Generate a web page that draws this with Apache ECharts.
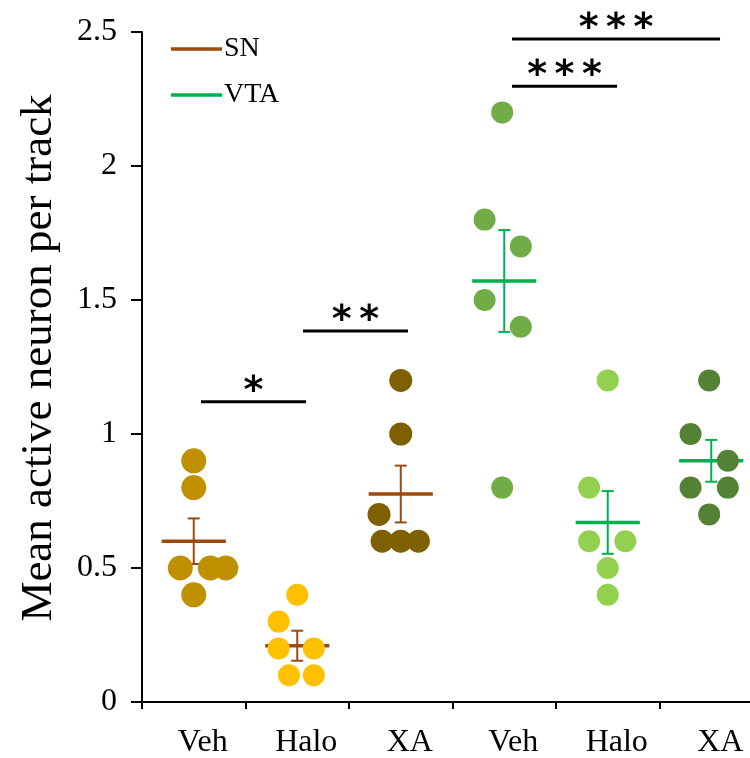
<!DOCTYPE html>
<html>
<head>
<meta charset="utf-8">
<script src="https://cdn.jsdelivr.net/npm/echarts@6/dist/echarts.min.js"></script>
<style>
  html, body { margin: 0; padding: 0; background: #fff; }
  #chart { width: 750px; height: 758px; }
</style>
</head>
<body>
<div id="chart"></div>
<script>
var categories = ['Veh', 'Halo', 'XA', 'Veh', 'Halo', 'XA']
var groupColors = ['#BF9000', '#FFC000', '#7F6000', '#70AD47', '#92D050', '#548235']
var dotSizes = [25, 22, 23, 22, 22, 22]

// values per animal, one array per group
var snVeh = [0.9, 0.8, 0.5, 0.5, 0.5, 0.4]
var snHalo = [0.4, 0.3, 0.2, 0.2, 0.1, 0.1]
var snXa = [1.2, 1.0, 0.7, 0.6, 0.6, 0.6]
var vtaVeh = [2.2, 1.8, 1.7, 1.5, 1.4, 0.8]
var vtaHalo = [1.2, 0.8, 0.6, 0.6, 0.5, 0.4]
var vtaXa = [1.2, 1.0, 0.9, 0.8, 0.8, 0.7]
var groupValues = [snVeh, snHalo, snXa, vtaVeh, vtaHalo, vtaXa]

// sideways spread of the dots, in category widths
var snVehSpread = [0, 0, -0.13, 0.16, 0.31, 0]
var snHaloSpread = [0, -0.18, -0.18, 0.16, -0.08, 0.16]
var snXaSpread = [0, 0, -0.21, -0.18, 0, 0.17]
var vtaVehSpread = [-0.02, -0.19, 0.16, -0.19, 0.16, -0.02]
var vtaHaloSpread = [0, -0.18, -0.18, 0.17, 0, 0]
var vtaXaSpread = [-0.02, -0.2, 0.16, -0.2, 0.16, -0.02]
var groupSpread = [snVehSpread, snHaloSpread, snXaSpread, vtaVehSpread, vtaHaloSpread, vtaXaSpread]

// mean and sem as drawn
var snMean = [0.6, 0.21, 0.776]
var snSem = [0.085, 0.056, 0.106]
var vtaMean = [1.571, 0.67, 0.9]
var vtaSem = [0.19, 0.117, 0.078]

// significance bars (x in category units from the left edge)
var sigFrom = [0.57, 1.556, 3.575, 3.575]
var sigTo = [1.585, 2.57, 4.59, 5.585]
var sigLevel = [1.12, 1.384, 2.298, 2.474]
var sigMarks = ['*', '*\u2009*', '*\u2009*\u2009*', '*\u2009*\u2009*']

var SERIF = 'Liberation Serif'
var BROWN = '#9C4A0E'
var GREEN = '#00B050'

function renderMeanSem (params, api) {
  var x = api.value(0)
  var m = api.value(1)
  var s = api.value(2)
  var l = api.coord([x - 0.31, m])
  var r = api.coord([x + 0.31, m])
  var top = api.coord([x, m + s])
  var bot = api.coord([x, m - s])
  var color = api.visual('color')
  return {
    type: 'group',
    children: [
      { type: 'line', shape: { x1: l[0], y1: l[1], x2: r[0], y2: r[1] }, style: { stroke: color, lineWidth: 3.5 } },
      { type: 'line', shape: { x1: top[0], y1: top[1], x2: bot[0], y2: bot[1] }, style: { stroke: color, lineWidth: 2 } },
      { type: 'line', shape: { x1: top[0] - 6, y1: top[1], x2: top[0] + 6, y2: top[1] }, style: { stroke: color, lineWidth: 2 } },
      { type: 'line', shape: { x1: bot[0] - 6, y1: bot[1], x2: bot[0] + 6, y2: bot[1] }, style: { stroke: color, lineWidth: 2 } }
    ]
  }
}

function renderSig (params, api) {
  var a = api.coord([api.value(0), api.value(2)])
  var b = api.coord([api.value(1), api.value(2)])
  return {
    type: 'group',
    children: [
      { type: 'line', shape: { x1: a[0], y1: a[1], x2: b[0], y2: b[1] }, style: { stroke: '#000', lineWidth: 3 } },
      {
        type: 'text',
        style: {
          text: sigMarks[params.dataIndex],
          x: (a[0] + b[0]) / 2,
          y: a[1] - 10,
          align: 'center',
          verticalAlign: 'middle',
          font: 'bold 38px "DejaVu Sans"',
          fill: '#000'
        }
      }
    ]
  }
}

var series = []
groupValues.forEach(function (vals, g) {
  series.push({
    type: 'scatter',
    xAxisIndex: 1,
    symbolSize: dotSizes[g],
    itemStyle: { color: groupColors[g], opacity: 1 },
    z: 3,
    data: vals.map(function (v, j) { return [g + 0.5 + groupSpread[g][j], v] })
  })
})
series.push({
  name: 'SN',
  type: 'custom',
  xAxisIndex: 1,
  z: 2,
  itemStyle: { color: BROWN },
  renderItem: renderMeanSem,
  data: snMean.map(function (m, i) { return [i + 0.5, m, snSem[i]] })
})
series.push({
  name: 'VTA',
  type: 'custom',
  xAxisIndex: 1,
  z: 2,
  itemStyle: { color: GREEN },
  renderItem: renderMeanSem,
  data: vtaMean.map(function (m, i) { return [i + 3.5, m, vtaSem[i]] })
})
series.push({
  type: 'custom',
  xAxisIndex: 1,
  z: 4,
  renderItem: renderSig,
  data: sigFrom.map(function (f, i) { return [f, sigTo[i], sigLevel[i]] })
})

var option = {
  animation: false,
  backgroundColor: '#fff',
  grid: { left: 142, top: 32, width: 621, height: 670, outerBoundsMode: 'none', containLabel: false },
  legend: {
    data: ['SN', 'VTA'],
    orient: 'vertical',
    left: 166,
    top: 30,
    icon: 'rect',
    itemWidth: 51,
    itemHeight: 3.5,
    itemGap: 18,
    selectedMode: false,
    textStyle: { fontFamily: SERIF, fontSize: 28, color: '#000', padding: [0, 0, 0, -3] }
  },
  xAxis: [
    {
      type: 'category',
      data: categories,
      boundaryGap: true,
      axisLine: { lineStyle: { color: '#000', width: 2 } },
      axisTick: { show: true, length: 7, lineStyle: { color: '#000', width: 2 } },
      axisLabel: { fontFamily: SERIF, fontSize: 32, color: '#000', margin: 25, padding: [0, 0, 0, 18] },
      splitLine: { show: false }
    },
    { type: 'value', min: 0, max: 6, show: false }
  ],
  yAxis: {
    type: 'value',
    min: 0,
    max: 2.5,
    interval: 0.5,
    name: 'Mean active neuron per track',
    nameLocation: 'middle',
    nameGap: 80,
    nameTextStyle: { fontFamily: SERIF, fontSize: 45, color: '#000', padding: [0, 0, 0, 18] },
    axisLine: { show: true, lineStyle: { color: '#000', width: 2 } },
    axisTick: { show: true, length: 11, lineStyle: { color: '#000', width: 2 } },
    axisLabel: { fontFamily: SERIF, fontSize: 32, color: '#000', margin: 25 },
    splitLine: { show: false }
  },
  series: series
}

var myChart = echarts.init(document.getElementById('chart'))
myChart.setOption(option)
</script>
</body>
</html>
